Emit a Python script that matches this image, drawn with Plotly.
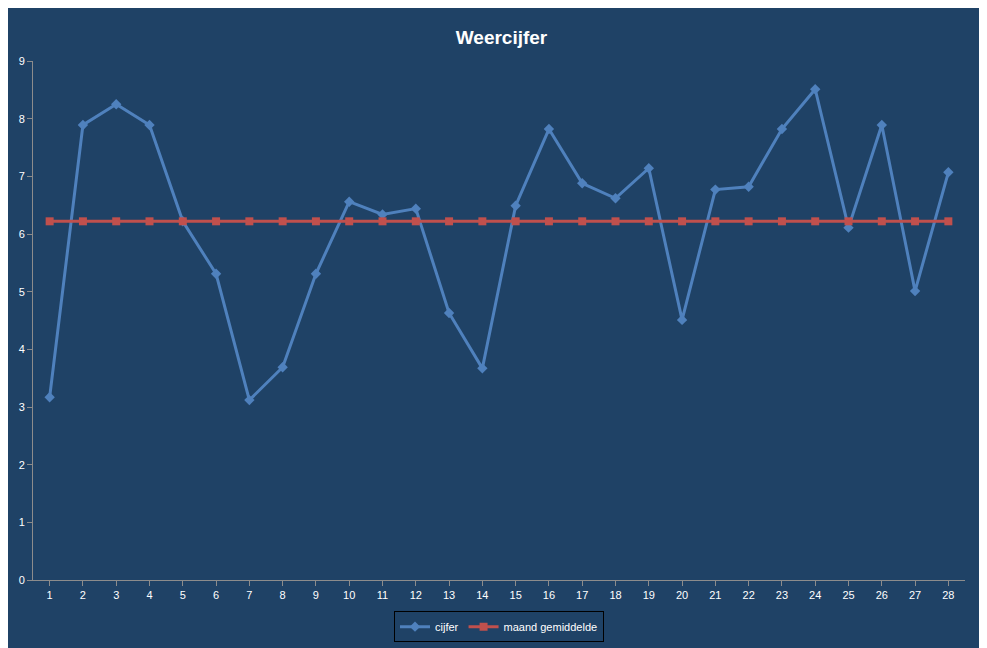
import plotly.graph_objects as go

days = list(range(1, 29))
cijfer = [3.17, 7.89, 8.25, 7.89, 6.22, 5.31, 3.12, 3.69, 5.31, 6.56, 6.34, 6.44, 4.63, 3.67,
          6.49, 7.82, 6.88, 6.62, 7.14, 4.51, 6.77, 6.82, 7.82, 8.51, 6.11, 7.89, 5.01, 7.07]
gemiddelde = [6.22] * 28

bg = "#1F4266"
fig = go.Figure()
fig.add_trace(go.Scatter(x=days, y=cijfer, name="cijfer", mode="lines+markers",
                         line=dict(color="#4F81BD", width=3),
                         marker=dict(symbol="diamond", size=8, color="#4F81BD")))
fig.add_trace(go.Scatter(x=days, y=gemiddelde, name="maand gemiddelde", mode="lines+markers",
                         line=dict(color="#C0504D", width=3),
                         marker=dict(symbol="square", size=8, color="#C0504D")))
fig.update_layout(
    width=987, height=648, paper_bgcolor=bg, plot_bgcolor=bg,
    title=dict(text="<b>Weercijfer</b>", x=0.5, y=0.965, font=dict(color="white", size=19, family="Liberation Sans")),
    margin=dict(l=25, r=30, t=53, b=76),
    font=dict(color="white", size=11, family="Liberation Sans"),
    xaxis=dict(range=[0.5, 28.5], tickmode="array", tickvals=days, showgrid=False,
               showline=True, linecolor="#8C8C8C", ticks="outside", tickcolor="#8C8C8C", zeroline=False),
    yaxis=dict(range=[0, 9], dtick=1, showgrid=False, showline=True, linecolor="#8C8C8C",
               ticks="outside", tickcolor="#8C8C8C", zeroline=False),
    legend=dict(orientation="h", x=0.5, xanchor="center", y=-0.06, yanchor="top",
                bordercolor="black", borderwidth=1, bgcolor=bg, font=dict(size=11)),
)
fig.write_html("out.html")
